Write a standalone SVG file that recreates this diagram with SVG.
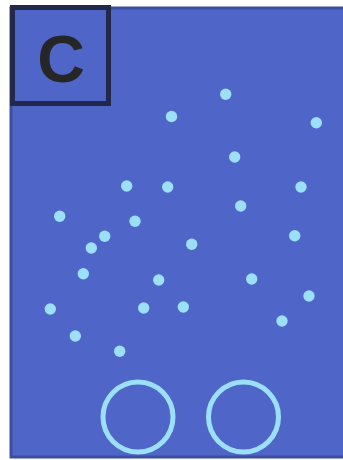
<svg xmlns="http://www.w3.org/2000/svg" width="343" height="460" viewBox="0 0 343 460">
<style>
.dot{fill:#9be0f8}
.ring{fill:none;stroke:#9be0f8;stroke-width:5}
</style>
<rect width="343" height="460" fill="#ffffff"/>
<g id="panel">
<rect x="11" y="8" width="340" height="449" fill="#4f66c8" stroke="#3c4e9e" stroke-width="3"/>
</g>
<g id="label">
<rect x="12.5" y="7.5" width="96" height="96" fill="none" stroke="#22284a" stroke-width="5"/>
<text x="61" y="82" text-anchor="middle" font-family="Liberation Sans, Arial, sans-serif" font-weight="bold" font-size="66" fill="#262626">C</text>
</g>
<g id="dots">
<circle class="dot" cx="225.7" cy="94.3" r="5.7"/>
<circle class="dot" cx="171.5" cy="116.5" r="5.7"/>
<circle class="dot" cx="316.3" cy="122.7" r="5.7"/>
<circle class="dot" cx="234.7" cy="157" r="5.7"/>
<circle class="dot" cx="126.7" cy="186" r="5.7"/>
<circle class="dot" cx="167.7" cy="187" r="5.7"/>
<circle class="dot" cx="301" cy="187" r="5.7"/>
<circle class="dot" cx="240.7" cy="206" r="5.7"/>
<circle class="dot" cx="59.7" cy="216.3" r="5.7"/>
<circle class="dot" cx="135" cy="221.3" r="5.7"/>
<circle class="dot" cx="104.7" cy="236.3" r="5.7"/>
<circle class="dot" cx="91.3" cy="248" r="5.7"/>
<circle class="dot" cx="294.7" cy="235.7" r="5.7"/>
<circle class="dot" cx="191.7" cy="244.3" r="5.7"/>
<circle class="dot" cx="83.3" cy="273.7" r="5.7"/>
<circle class="dot" cx="158.7" cy="280" r="5.7"/>
<circle class="dot" cx="251.7" cy="279" r="5.7"/>
<circle class="dot" cx="50.3" cy="309" r="5.7"/>
<circle class="dot" cx="143.7" cy="308" r="5.7"/>
<circle class="dot" cx="183.3" cy="307" r="5.7"/>
<circle class="dot" cx="309" cy="296" r="5.7"/>
<circle class="dot" cx="282" cy="321" r="5.7"/>
<circle class="dot" cx="75.3" cy="336" r="5.7"/>
<circle class="dot" cx="119.7" cy="351.3" r="5.7"/>
</g>
<g id="rings">
<circle class="ring" cx="138" cy="417" r="35"/>
<circle class="ring" cx="243.5" cy="417" r="35"/>
</g>
</svg>
